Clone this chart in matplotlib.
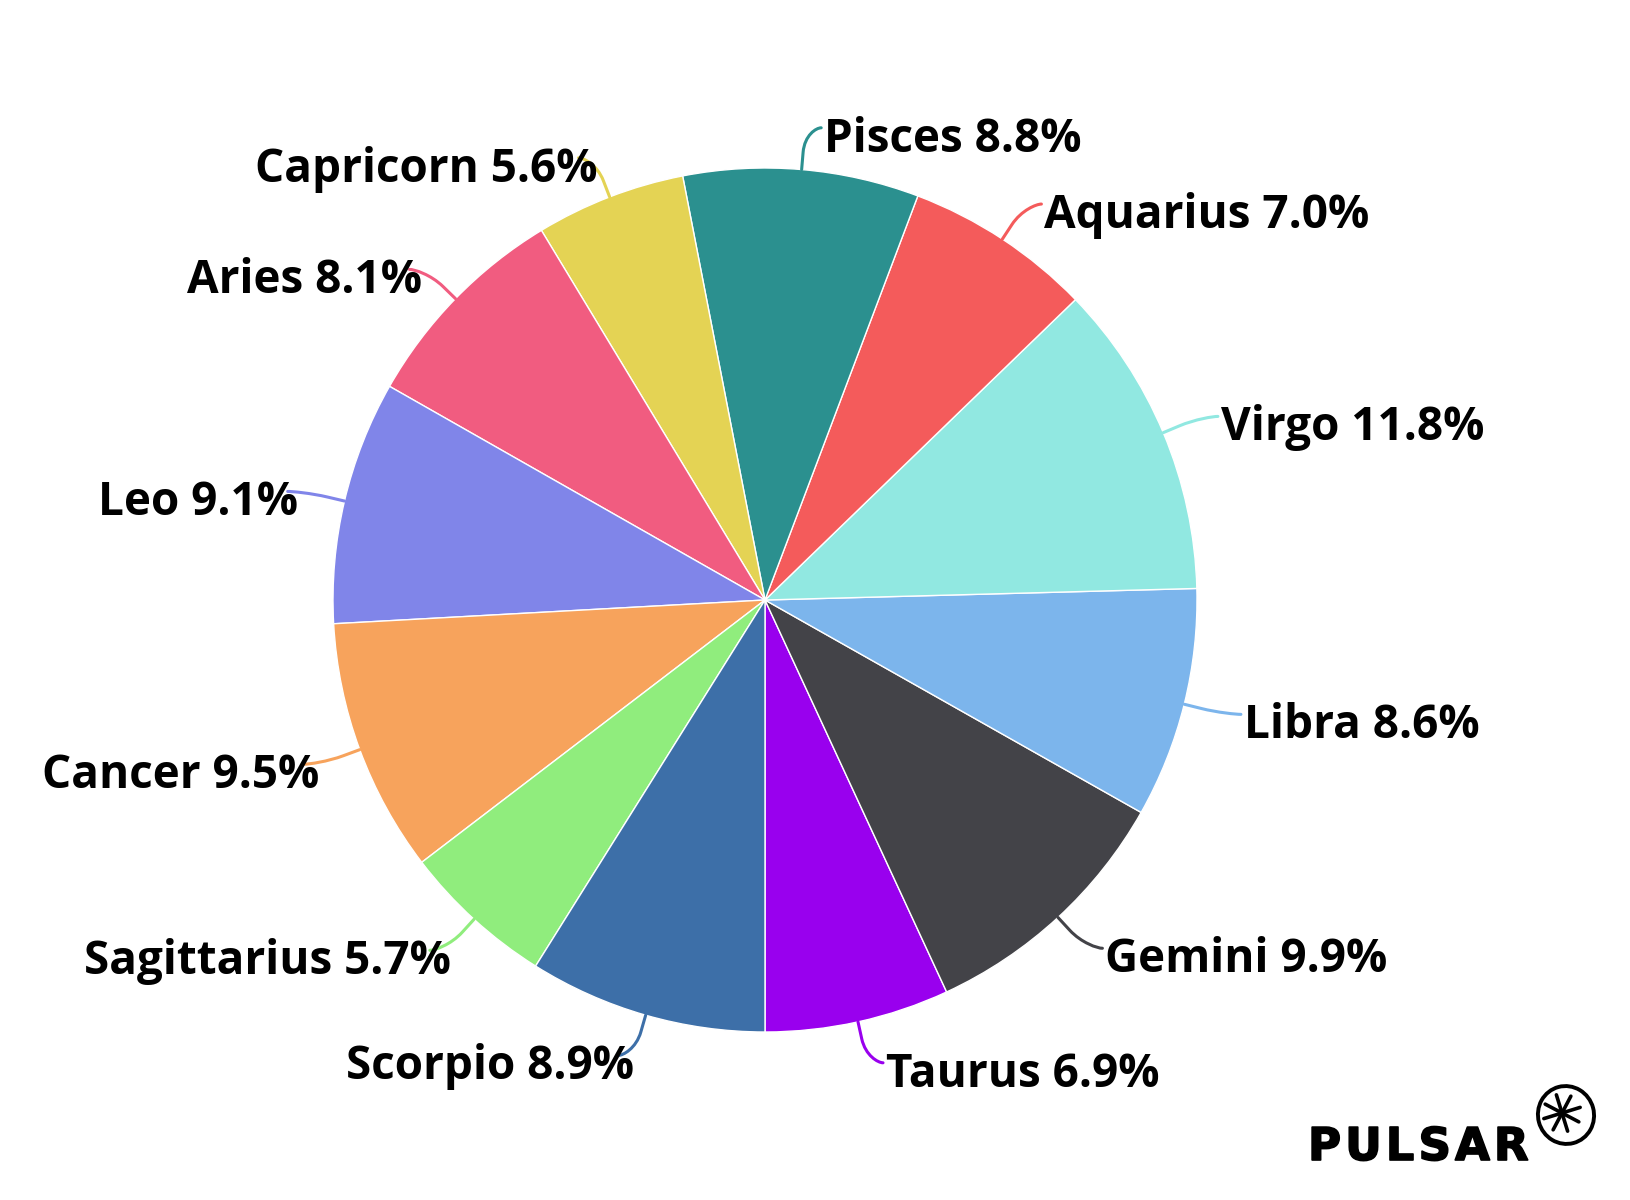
import numpy as np
import matplotlib
matplotlib.use("Agg")
import matplotlib.pyplot as plt
from matplotlib.path import Path
from matplotlib.patches import PathPatch, Ellipse
import matplotlib.patheffects as pe

# ---- data (counter-clockwise from the bottom of the pie) ----
signs = ["Taurus", "Gemini", "Libra", "Virgo", "Aquarius", "Pisces",
         "Capricorn", "Aries", "Leo", "Cancer", "Sagittarius", "Scorpio"]
shares = [6.9, 9.9, 8.6, 11.8, 7.0, 8.8, 5.6, 8.1, 9.1, 9.5, 5.7, 8.9]
colors = ["#9900ee", "#434348", "#7cb5ec", "#91e8e1", "#f45b5b", "#2b908f",
          "#e4d354", "#f15c80", "#8085e9", "#f7a35c", "#90ed7d", "#3d6fa8"]

W, H = 1630, 1200
CX, CY = 765, 600      # pie centre in pixels (from left, from top)
R = 432                # pie radius in pixels

fig = plt.figure(figsize=(W / 100, H / 100), dpi=100)
ax = fig.add_axes([0, 0, 1, 1])
wedges, _ = ax.pie(shares, colors=colors, radius=R, startangle=-90,
                   counterclock=True, frame=True,
                   wedgeprops=dict(edgecolor="white", linewidth=1))
ax.set_xlim(-CX, W - CX)
ax.set_ylim(-(H - CY), CY)
ax.set_aspect("equal")
ax.axis("off")

renderer = fig.canvas.get_renderer()

LABEL_R = 1.097 * R
PAD = 11
for w, name, val, col in zip(wedges, signs, shares, colors):
    th = np.deg2rad((w.theta1 + w.theta2) / 2)
    c, s = np.cos(th), np.sin(th)
    side = 1 if c >= 0 else -1
    E = np.array([R * c, R * s])
    B = np.array([1.04 * R * c, 1.04 * R * s])
    A = np.array([side * (LABEL_R * abs(c) + PAD), LABEL_R * s])
    S = A + np.array([side * 5, 0])
    verts = [S, A, 2 * B - E, B, E]
    codes = [Path.MOVETO, Path.CURVE4, Path.CURVE4, Path.CURVE4, Path.LINETO]
    ax.add_patch(PathPatch(Path(verts, codes), facecolor="none",
                           edgecolor=col, linewidth=2.2, capstyle="round"))
    t = ax.text(S[0] + side * 3, A[1] - 24, f"{name} {val:.1f}%",
                ha="left" if side > 0 else "right", va="baseline",
                fontsize=33, fontweight="bold", family=["Open Sans", "DejaVu Sans"],
                color="black", zorder=5)
    if side < 0:
        wpx = t.get_window_extent(renderer).width
        t.set_x(S[0] - 3 + 0.065 * wpx)

# ---- PULSAR logo ----
x = 1308 - CX
for ch in "PULSAR":
    t = ax.text(x, CY - 1160, ch, ha="left", va="baseline",
                fontsize=32.5, fontweight="bold", family="DejaVu Sans", color="black",
                path_effects=[pe.withStroke(linewidth=1.2, foreground="black")])
    x += t.get_window_extent(renderer).width + 4
icx, icy = 1566 - CX, CY - 1115
ax.add_patch(Ellipse((icx, icy), 56, 58, angle=15, facecolor="none",
                     edgecolor="black", linewidth=2.8))
for a in np.linspace(0, 2 * np.pi, 8, endpoint=False) + 0.3:
    ax.plot([icx - 4, icx - 4 + 19 * np.cos(a)], [icy + 2, icy + 2 + 19 * np.sin(a)],
            color="black", linewidth=2.6, solid_capstyle="round")

fig.savefig("out.png", dpi=100)
